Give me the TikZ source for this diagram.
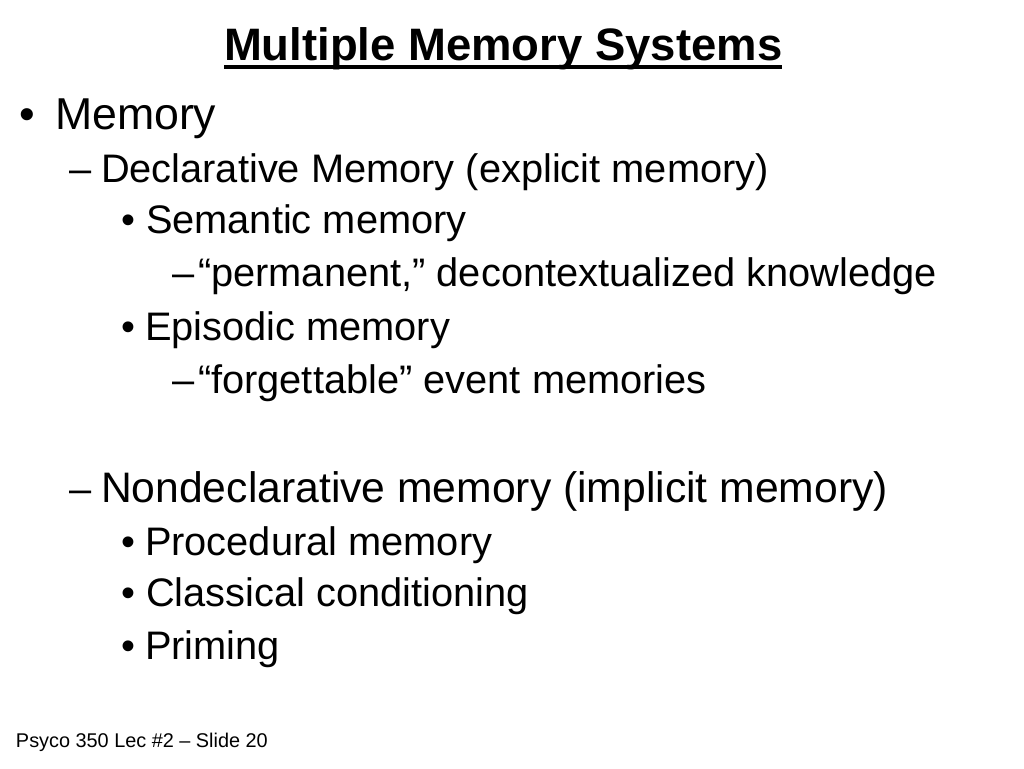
\documentclass[tikz,border=0pt]{standalone}
\usepackage{fontspec}
\setmainfont{Liberation Sans}
\begin{document}
\begin{tikzpicture}[x=0.75pt,y=-0.75pt,
  line/.style={anchor=base west,inner sep=0pt,outer sep=0pt},
  heading/.style={line,font=\fontsize{34.1}{41}\selectfont\bfseries},
  lvlone/.style={line,font=\fontsize{33.5}{40}\selectfont},
  lvltwo/.style={line,font=\fontsize{29.85}{36}\selectfont},
  lvltwobig/.style={line,font=\fontsize{32}{38}\selectfont},
  footer/.style={line,font=\fontsize{14.9}{18}\selectfont}]
\useasboundingbox[fill=white] (0,0) rectangle (1024,768);
% title
\node[heading] (title) at (224,60) {Multiple Memory Systems};
\draw[line width=2.6pt] ([yshift=-5.25pt]title.base west) -- ([yshift=-5.25pt]title.base east);
% level one
\node[lvlone] (dotmem) at (19,129.5) {•};
\node[lvlone] (mem) at (55,129.5) {Memory};
% level two
\node[lvltwo] (dashdecl) at (69,182.7) {–};
\node[lvltwo] (decl) at (101,182.7) {Declarative Memory (explicit memory)};
\node[lvltwo] (dashnondecl) at (69,502.7) {–};
\node[lvltwobig] (nondecl) at (101,502.7) {Nondeclarative memory (implicit memory)};
% level three
\foreach \y/\n in {233.3/sem,340.7/epi,555/proc,606.7/class,659.3/prim}
  \node[lvltwo] (dot\n) at (121,\y) {•};
\node[lvltwo] (sem) at (146,233.3) {Semantic memory};
\node[lvltwo] (epi) at (145,340.7) {Episodic memory};
\node[lvltwo] (proc) at (145,555) {Procedural memory};
\node[lvltwo] (class) at (146,606.7) {Classical conditioning};
\node[lvltwo] (prim) at (145,659.3) {Priming};
% level four
\foreach \y/\n in {286/perm,393.3/forg}
  \node[lvltwo] (dash\n) at (172,\y) {–};
\node[lvltwo] (perm) at (198,286) {“permanent,” decontextualized knowledge};
\node[lvltwo] (forg) at (198,393.3) {“forgettable” event memories};
% footer
\node[footer] (foot) at (16,747.7) {Psyco 350 Lec \#2 – Slide 20};
\end{tikzpicture}
\end{document}
